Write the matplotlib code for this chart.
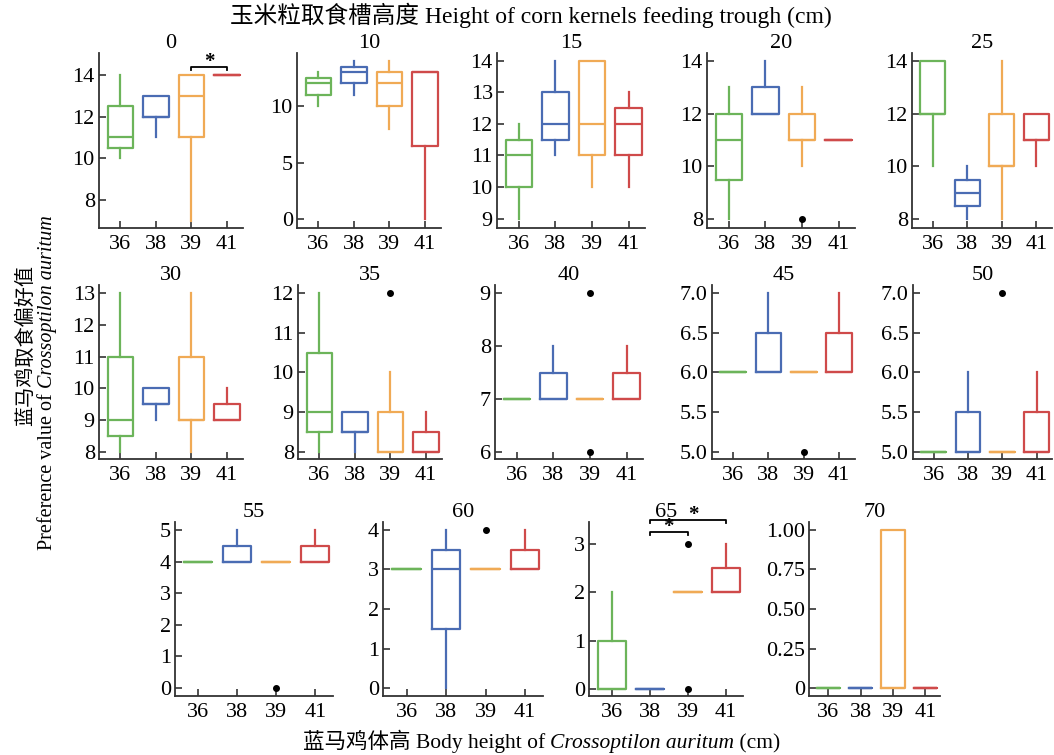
import matplotlib
matplotlib.use('Agg')
import matplotlib.pyplot as plt

plt.rcParams['font.family'] = ['Liberation Serif', 'Noto Sans CJK SC']

# body heights (x categories) and trough heights (panels)
heights = ['36', '38', '39', '41']
trough = ['0', '10', '15', '20', '25', '30', '35', '40', '45', '50', '55', '60', '65', '70']
colors = ['#6cb45a', '#4a6cb3', '#f0aa55', '#cf4a4a']

# box statistics per panel, one value per body height (36, 38, 39, 41)
whis_lo = [[10, 11, 7, 14], [10, 11, 8, 0], [9, 11, 10, 10], [8, 12, 10, 11], [10, 8, 8, 10],
           [8, 9, 8, 9], [8, 8, 8, 8], [7, 7, 7, 7], [6, 6, 6, 6], [5, 5, 5, 5],
           [4, 4, 4, 4], [3, 0, 3, 3], [0, 0, 2, 2], [0, 0, 0, 0]]
q1 = [[10.5, 12, 11, 14], [11, 12, 10, 6.5], [10, 11.5, 11, 11], [9.5, 12, 11, 11], [12, 8.5, 10, 11],
      [8.5, 9.5, 9, 9], [8.5, 8.5, 8, 8], [7, 7, 7, 7], [6, 6, 6, 6], [5, 5, 5, 5],
      [4, 4, 4, 4], [3, 1.5, 3, 3], [0, 0, 2, 2], [0, 0, 0, 0]]
med = [[11, 12, 13, 14], [12, 13, 12, 13], [11, 12, 12, 12], [11, 12, 11, 11], [12, 9, 10, 11],
       [9, 9.5, 9, 9], [9, 8.5, 8, 8], [7, 7, 7, 7], [6, 6, 6, 6], [5, 5, 5, 5],
       [4, 4, 4, 4], [3, 3, 3, 3], [0, 0, 2, 2], [0, 0, 0, 0]]
q3 = [[12.5, 13, 14, 14], [12.5, 13.5, 13, 13], [11.5, 13, 14, 12.5], [12, 13, 12, 11], [14, 9.5, 12, 12],
      [11, 10, 11, 9.5], [10.5, 9, 9, 8.5], [7, 7.5, 7, 7.5], [6, 6.5, 6, 6.5], [5, 5.5, 5, 5.5],
      [4, 4.5, 4, 4.5], [3, 3.5, 3, 3.5], [1, 0, 2, 2.5], [0, 0, 1, 0]]
whis_hi = [[14, 13, 14, 14], [13, 14, 14, 13], [12, 14, 14, 13], [13, 14, 13, 11], [14, 10, 14, 12],
           [13, 10, 13, 10], [12, 9, 10, 9], [7, 8, 7, 8], [6, 7, 6, 7], [5, 6, 5, 6],
           [4, 5, 4, 5], [3, 4, 3, 4], [2, 0, 2, 3], [0, 0, 1, 0]]
# outliers: (panel, body height index, values)
fliers = [(3, 2, [8]), (6, 2, [12]), (7, 2, [6, 9]), (8, 2, [5]), (9, 2, [7]),
          (10, 2, [0]), (11, 2, [4]), (12, 2, [0, 3])]
# significance brackets: (panel, from, to, y)
sig = [(0, 2, 3, 14.4), (12, 1, 2, 3.25), (12, 1, 3, 3.49)]
star_dx = [0, 0, 4]      # points, nudges the star off the panel title

yticks = [[8, 10, 12, 14], [0, 5, 10], [9, 10, 11, 12, 13, 14], [8, 10, 12, 14], [8, 10, 12, 14],
          [8, 9, 10, 11, 12, 13], [8, 9, 10, 11, 12], [6, 7, 8, 9],
          [5, 5.5, 6, 6.5, 7], [5, 5.5, 6, 6.5, 7], [0, 1, 2, 3, 4, 5], [0, 1, 2, 3, 4],
          [0, 1, 2, 3], [0, 0.25, 0.5, 0.75, 1]]
ylims = [(6.65, 15.05), (-0.8, 14.7), (8.7, 14.25), (7.66, 14.3), (7.66, 14.3),
         (7.78, 13.25), (7.82, 12.2), (5.87, 9.15), (4.91, 7.1), (4.91, 7.1),
         (-0.25, 5.25), (-0.2, 4.2), (-0.14, 3.45), (-0.05, 1.05)]

# axes boxes in pixels: left, top, right, bottom
W, H = 1054, 755
boxes = [(99, 53, 243, 228), (297, 53, 441, 228), (497, 53, 645, 228), (707, 53, 855, 228), (912, 53, 1052, 228),
         (99, 285, 243, 459), (298, 285, 442, 459), (495, 285, 643, 459), (712, 285, 855, 459), (913, 285, 1052, 459),
         (175, 522, 333, 696), (383, 522, 543, 696), (589, 522, 743, 696), (809, 522, 940, 696)]

fig = plt.figure(figsize=(W / 100, H / 100), dpi=100)

for k in range(len(trough)):
    l, t, r, b = boxes[k]
    ax = fig.add_axes([l / W, 1 - b / H, (r - l) / W, (b - t) / H])
    for i in range(4):
        fl = []
        for p, j, vals in fliers:
            if p == k and j == i:
                fl = vals
        st = dict(whislo=whis_lo[k][i], q1=q1[k][i], med=med[k][i],
                  q3=q3[k][i], whishi=whis_hi[k][i], fliers=fl)
        c = colors[i]
        ax.bxp([st], positions=[i + 1], widths=0.72, showcaps=False,
               boxprops=dict(color=c, linewidth=1.6),
               whiskerprops=dict(color=c, linewidth=1.6),
               medianprops=dict(color=c, linewidth=1.6),
               flierprops=dict(marker='o', markersize=4, markerfacecolor='black',
                               markeredgecolor='black'))
    ax.set_xlim(0.4, 4.45)
    ax.set_ylim(*ylims[k])
    ax.set_xticks([1, 2, 3, 4])
    ax.set_xticklabels(heights)
    ax.set_yticks(yticks[k])
    if k in (8, 9):
        ax.set_yticklabels(['%.1f' % v for v in yticks[k]])
    elif k == 13:
        ax.set_yticklabels(['0', '0.25', '0.50', '0.75', '1.00'])
    else:
        ax.set_yticklabels(['%g' % v for v in yticks[k]])
    ax.tick_params(direction='in', length=5, width=1.2, color='#333333', labelsize=16)
    ax.tick_params(axis='x', pad=5)
    ax.tick_params(axis='y', pad=3)
    for s in ('top', 'right'):
        ax.spines[s].set_visible(False)
    for s in ('left', 'bottom'):
        ax.spines[s].set_color('#333333')
        ax.spines[s].set_linewidth(1.3)
    ax.set_title(trough[k], fontsize=16, pad=1)
    for n, (p, a, bb, y) in enumerate(sig):
        if p == k:
            d = (ylims[k][1] - ylims[k][0]) * 0.018
            ax.plot([a + 1, a + 1, bb + 1, bb + 1], [y - d, y, y, y - d], color='black',
                    linewidth=1.3, clip_on=False)
            ax.annotate('*', xy=((a + bb) / 2 + 1, y), xytext=(star_dx[n], 0),
                        textcoords='offset points', ha='center', va='baseline',
                        fontsize=15, fontweight='bold', annotation_clip=False)


def rich_text(x, y, pieces, rotation=0):
    # place text pieces one after another, centred at pixel (x, y) on the baseline
    rend = fig.canvas.get_renderer()
    made = []
    total = 0
    for s, fam, sty, size in pieces:
        tx = fig.text(0, 0, s, fontsize=size, family=fam, style=sty)
        w = tx.get_window_extent(rend).width
        made.append((tx, w))
        total += w
    pos = -total / 2
    for tx, w in made:
        if rotation == 0:
            tx.set_position(((x + pos) / W, 1 - y / H))
        else:
            tx.set_position((x / W, 1 - (y - pos) / H))
            tx.set_rotation(90)
            tx.set_rotation_mode('anchor')
        tx.set_ha('left')
        tx.set_va('baseline')
        pos += w


serif = ['Liberation Serif', 'Noto Sans CJK SC']
cjk = ['Noto Sans CJK SC', 'Liberation Serif']
rich_text(531, 23, [('玉米粒取食槽高度 ', cjk, 'normal', 17),
                    ('Height of corn kernels feeding trough (cm)', serif, 'normal', 17)])
rich_text(542, 748, [('蓝马鸡体高 ', cjk, 'normal', 15.5), ('Body height of ', serif, 'normal', 15.5),
                     ('Crossoptilon auritum', serif, 'italic', 15.5), (' (cm)', serif, 'normal', 15.5)])
rich_text(31, 345, [('蓝马鸡取食偏好值', cjk, 'normal', 14.5)], rotation=90)
rich_text(52, 383, [('Preference value of ', serif, 'normal', 14.5),
                    ('Crossoptilon auritum', serif, 'italic', 14.5)], rotation=90)

fig.savefig('out.png', dpi=100)
